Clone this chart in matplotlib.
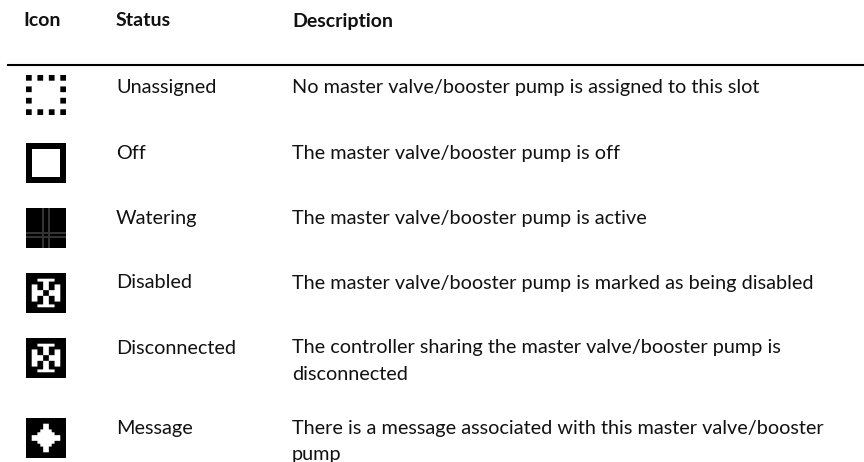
import numpy as np
import matplotlib
matplotlib.use("Agg")
import matplotlib.pyplot as plt

headers = ["Icon", "Status", "Description"]
statuses = ["Unassigned", "Off", "Watering", "Disabled", "Disconnected", "Message"]
descriptions = [
    ["No master valve/booster pump is assigned to this slot"],
    ["The master valve/booster pump is off"],
    ["The master valve/booster pump is active"],
    ["The master valve/booster pump is marked as being disabled"],
    ["The controller sharing the master valve/booster pump is", "disconnected"],
    ["There is a message associated with this master valve/booster", "pump"],
]
unassigned = [
    "##..##..##..##", "##..##..##..##", "..............", "..............",
    "##..........##", "##..........##", "..............", "..............",
    "##..........##", "##..........##", "..............", "..............",
    "##..##..##..##", "##..##..##..##",
]
off = ["#" * 20] * 3 + ["###" + "." * 14 + "###"] * 14 + ["#" * 20] * 3
wr = "########+##+########"
wc = "+" * 20
watering = [wr] * 12 + [wc] + [wr] + [wc] + [wr] * 5
disabled = [
    "##############", "##############", "####......####", "######..######",
    "##..##..##..##", "##..##..##..##", "##....##....##", "##....##....##",
    "##..##..##..##", "##..##..##..##", "######..######", "####......####",
    "##############", "##############",
]
message = [
    "##############", "##############", "######..######", "######..######",
    "#####....#####", "####......####", "##..........##", "##..........##",
    "####......####", "#####....#####", "######..######", "######..######",
    "##############", "##############",
]
icons = [unassigned, off, watering, disabled, disabled, message]
icon_tops = [75, 143, 208, 273, 338, 418]
text_ys = [86.5, 152, 217, 281.5, 346.5, 427]
shade = {"#": 0.0, "+": 0.2, ".": 1.0}

fig = plt.figure(figsize=(8.64, 4.62), dpi=100)
ax = fig.add_axes([0, 0, 1, 1])
ax.set_xlim(0, 864); ax.set_ylim(462, 0); ax.axis("off")
F = "Lato"
TC = "#111111"
for x, h in zip([23, 116, 292], headers):
    ax.text(x, 21, h, family=F, fontsize=14.0, fontweight="bold", va="center", color="#111111")
ax.plot([7, 864], [65, 65], color="black", lw=1.5, solid_capstyle="butt")
for ic, top, ty, s, d in zip(icons, icon_tops, text_ys, statuses, descriptions):
    arr = np.array([[shade[c] for c in r] for r in ic])
    k = round(40 / arr.shape[0])
    arr = np.kron(arr, np.ones((k, k)))
    ax.imshow(arr, cmap="gray", vmin=0, vmax=1, extent=(26, 66, top + 40, top),
              interpolation="bilinear", aspect="auto", zorder=2)
    ax.text(116, ty, s, family=F, fontsize=14.3, va="center_baseline", color=TC)
    for i, line in enumerate(d):
        ax.text(292, ty + 26 * i, line, family=F, fontsize=14.3, va="center_baseline", color=TC)
ax.set_xlim(0, 864); ax.set_ylim(462, 0)
fig.savefig("out.png", dpi=100)
